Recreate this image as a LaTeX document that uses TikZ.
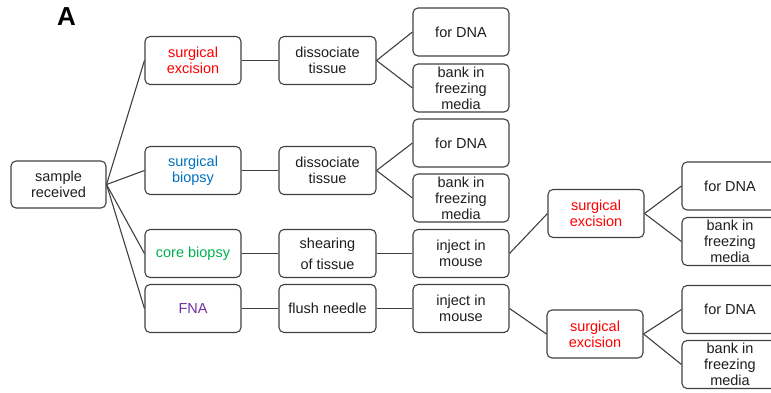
\documentclass[tikz,border=0pt]{standalone}
\usepackage{fontspec}
\setmainfont{Liberation Sans}
\definecolor{linegray}{RGB}{64,64,64}
\definecolor{txtgray}{RGB}{30,30,30}
\definecolor{cred}{RGB}{255,0,0}
\definecolor{cblue}{RGB}{0,112,192}
\definecolor{cgreen}{RGB}{0,176,80}
\definecolor{cpurple}{RGB}{112,48,160}
\tikzset{
  box/.style={draw=linegray, line width=1.1pt, rounded corners=5pt, rectangle,
    minimum width=96pt, minimum height=48pt, inner sep=1pt, align=center,
    text=txtgray, font=\fontsize{14.5}{16}\selectfont},
  conn/.style={draw=linegray, line width=1.1pt},
}
\begin{document}
\begin{tikzpicture}[x=1pt,y=-1pt]
\useasboundingbox (0,0) rectangle (771,393);
\clip (0,0) rectangle (771,393);
\node[font=\bfseries\fontsize{26}{28}\selectfont, text=black] (lab) at (66.5,16.5) {A};
% column 1
\node[box, minimum width=95pt, minimum height=47pt] (sr) at (58.5,184.5) {sample\\received};
% column 2
\node[box, text=cred] (se1) at (193,60.5) {surgical\\excision};
\node[box, text=cblue] (sb) at (193,170.5) {surgical\\biopsy};
\node[box, text=cgreen] (cb) at (193,253.5) {core biopsy};
\node[box, text=cpurple] (fna) at (193,308.5) {FNA};
% column 3
\node[box, minimum width=97pt] (dt1) at (327.5,60.5) {dissociate\\tissue};
\node[box, minimum width=97pt] (dt2) at (327.5,170.5) {dissociate\\tissue};
\node[box, minimum width=97pt] (sh) at (327.5,253.5) {shearing\\[5pt]of tissue};
\node[box, minimum width=97pt] (fn) at (327.5,308.5) {flush needle};
% column 4
\node[box] (dna1) at (461,32) {for DNA};
\node[box] (bank1) at (461,88) {bank in\\freezing\\media};
\node[box] (dna2) at (461,143) {for DNA};
\node[box] (bank2) at (461,198) {bank in\\freezing\\media};
\node[box] (im1) at (461,253.5) {inject in\\mouse};
\node[box] (im2) at (461,308.5) {inject in\\mouse};
% column 5
\node[box, text=cred] (se2) at (596,213.5) {surgical\\excision};
\node[box, text=cred] (se3) at (595,334) {surgical\\excision};
% column 6
\node[box] (dna3) at (730,186) {for DNA};
\node[box] (bank3) at (730,241.5) {bank in\\freezing\\media};
\node[box] (dna4) at (730,309.5) {for DNA};
\node[box] (bank4) at (730,364.5) {bank in\\freezing\\media};
% connectors
\foreach \t in {se1,sb,cb,fna} \draw[conn] (sr.east) -- (\t.west);
\draw[conn] (se1) -- (dt1);
\draw[conn] (sb) -- (dt2);
\draw[conn] (cb) -- (sh);
\draw[conn] (fna) -- (fn);
\draw[conn] (dt1.east) -- (dna1.west);
\draw[conn] (dt1.east) -- (bank1.west);
\draw[conn] (dt2.east) -- (dna2.west);
\draw[conn] (dt2.east) -- (bank2.west);
\draw[conn] (sh) -- (im1);
\draw[conn] (fn) -- (im2);
\draw[conn] (im1.east) -- (se2.west);
\draw[conn] (im2.east) -- (se3.west);
\draw[conn] (se2.east) -- (dna3.west);
\draw[conn] (se2.east) -- (bank3.west);
\draw[conn] (se3.east) -- (dna4.west);
\draw[conn] (se3.east) -- (bank4.west);
\end{tikzpicture}
\end{document}
